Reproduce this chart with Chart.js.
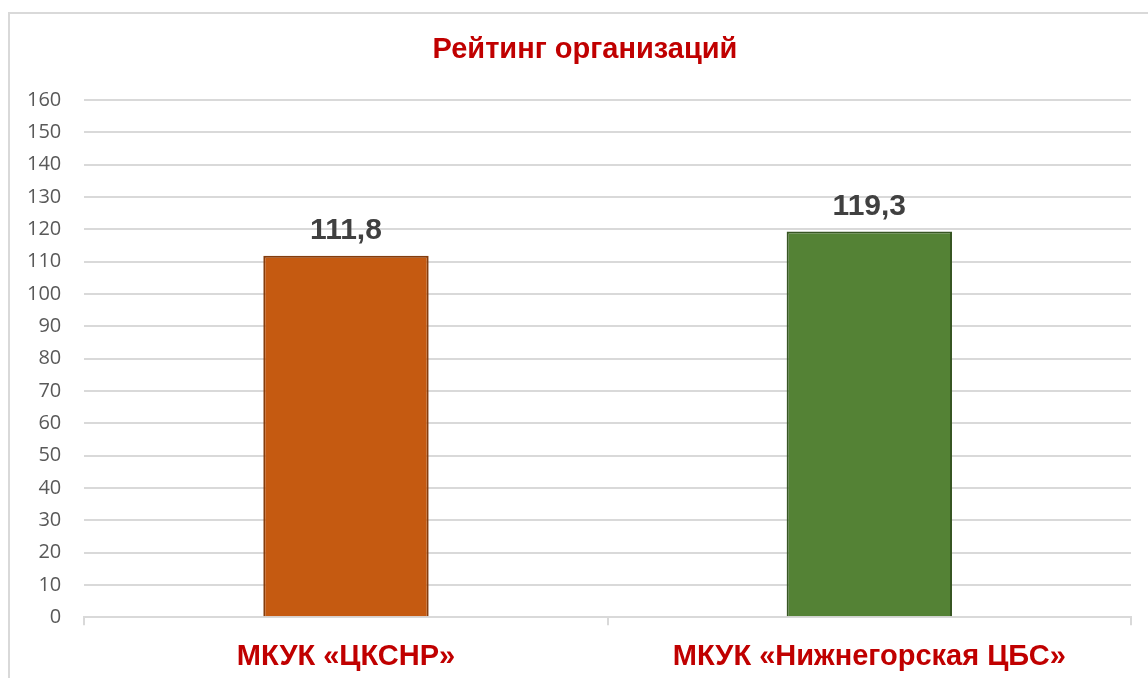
<!DOCTYPE html>
<html>
<head>
<meta charset="utf-8">
<script src="https://cdn.jsdelivr.net/npm/chart.js@4/dist/chart.umd.min.js"></script>
<style>
  body { margin: 0; background: #fff; }
  #wrap { position: relative; width: 1148px; height: 678px; overflow: hidden; }
  #frame { position: absolute; left: 8px; top: 12px; width: 1200px; height: 700px; border: 2px solid #d9d9d9; }
  canvas { position: absolute; left: 0; top: 0; }
</style>
</head>
<body>
<div id="wrap">
  <div id="frame"></div>
  <canvas id="myChart" width="1148" height="678"></canvas>
</div>
<script>
const chartTitle = 'Рейтинг организаций'
const organizations = ['МКУК «ЦКСНР»', 'МКУК «Нижнегорская ЦБС»']
const ratings = [111.8, 119.3]
const barColors = ['#C55A11', '#548235']
const barBorders = ['#843C0C', '#375623']

// simple value labels above each bar
const valueLabels = {
  id: 'valueLabels',
  afterDatasetsDraw(chart) {
    const c = chart.ctx
    chart.getDatasetMeta(0).data.forEach((bar, i) => {
      c.save()
      c.font = 'bold 30px Arial, "Liberation Sans", sans-serif'
      c.fillStyle = '#404040'
      c.textAlign = 'center'
      c.textBaseline = 'middle'
      c.fillText(ratings[i].toFixed(1).replace('.', ','), bar.x, bar.y - 25)
      c.restore()
    })
  }
}

// title drawn by hand so it sits a bit right of centre like the original
const topTitle = {
  id: 'topTitle',
  afterDraw(chart) {
    const c = chart.ctx
    c.save()
    c.font = 'bold 29px Arial, "Liberation Sans", sans-serif'
    c.fillStyle = '#C00000'
    c.textAlign = 'center'
    c.textBaseline = 'middle'
    c.fillText(chartTitle, chart.width / 2 + 11, 50)
    c.restore()
  }
}

const chartEle = document.getElementById('myChart')

const ctx = new Chart(chartEle, {
  type: 'bar',
  data: {
    labels: organizations,
    datasets: [{
      label: 'Рейтинг',
      data: ratings,
      backgroundColor: barColors,
      borderColor: barBorders,
      borderWidth: 2,
      categoryPercentage: 1,
      barPercentage: 0.316
    }]
  },
  options: {
    responsive: false,
    animation: false,
    layout: { padding: { left: 4, right: 17, top: 100, bottom: -10 } },
    plugins: {
      legend: { display: false },
      tooltip: { enabled: false },
      title: { display: false }
    },
    scales: {
      y: {
        min: 0,
        max: 160,
        ticks: {
          stepSize: 10,
          color: '#595959',
          padding: 23,
          font: { family: '"Open Sans", sans-serif', size: 20 }
        },
        grid: { color: '#d9d9d9', lineWidth: 2, drawTicks: false },
        border: { display: false }
      },
      x: {
        ticks: {
          color: '#C00000',
          padding: 14,
          font: { family: 'Arial, "Liberation Sans", sans-serif', size: 29, weight: 'bold' }
        },
        grid: { offset: true, drawOnChartArea: false, drawTicks: true, tickLength: 8, color: '#d9d9d9', lineWidth: 2 },
        border: { display: true, color: '#d9d9d9', width: 2 }
      }
    }
  },
  plugins: [valueLabels, topTitle]
})
</script>
</body>
</html>
